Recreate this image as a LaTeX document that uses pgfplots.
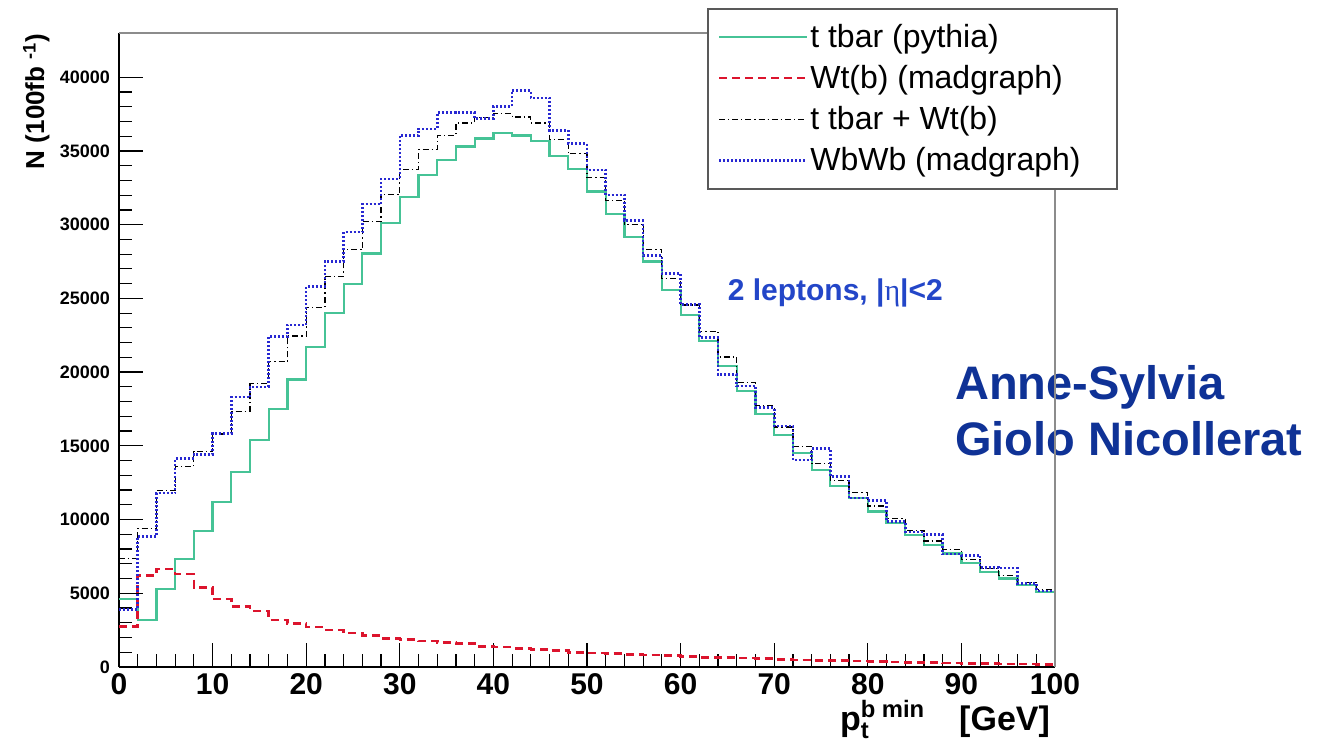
\documentclass[border=0pt]{standalone}
\usepackage{fontspec}
\setmainfont{Liberation Sans}
\usepackage{amsmath}
\usepackage{pgfplots}
\usepackage{pgfplotstable}
\pgfplotsset{compat=1.18}
\definecolor{ttgreen}{RGB}{70,195,150}
\definecolor{wtred}{RGB}{220,20,45}
\definecolor{wbblue}{RGB}{40,40,210}
\definecolor{lepblue}{RGB}{35,70,200}
\definecolor{nameblue}{RGB}{15,50,150}

\pgfplotstableread{
x tt wt sum wbwb
0 4600 2750 7350 3900
2 3200 6200 9400 8850
4 5300 6650 11950 11800
6 7300 6300 13600 14150
8 9200 5400 14600 14400
10 11200 4600 15800 15850
12 13250 4100 17350 18300
14 15400 3800 19200 19000
16 17500 3200 20700 22400
18 19500 2950 22450 23200
20 21700 2700 24400 25800
22 24000 2500 26500 27500
24 26000 2300 28300 29500
26 28050 2150 30200 31400
28 30100 1950 32050 33100
30 31900 1850 33750 36050
32 33350 1750 35100 36500
34 34400 1650 36050 37600
36 35300 1600 36900 37600
38 35850 1400 37250 37200
40 36200 1350 37550 38000
42 36050 1250 37300 39100
44 35700 1200 36900 38600
46 34650 1100 35750 36400
48 33800 1000 34800 35500
50 32250 950 33200 33700
52 30750 900 31650 32000
54 29150 850 30000 30300
56 27500 820 28320 27900
58 25550 780 26330 26700
60 23850 700 24550 24600
62 22100 660 22760 22350
64 20400 630 21030 19850
66 18700 600 19300 19050
68 17150 560 17710 17600
70 15750 520 16270 16350
72 14500 480 14980 14050
74 13350 450 13800 14800
76 12250 420 12670 12900
78 11450 400 11850 11450
80 10550 370 10920 11300
82 9750 340 10090 9850
84 8950 320 9270 9150
86 8250 300 8550 9000
88 7700 280 7980 7650
90 7050 250 7300 7550
92 6450 230 6680 6750
94 6000 210 6210 6700
96 5550 190 5740 5650
98 5100 170 5270 5150
100 5100 170 5270 5150
}\data

\begin{document}
\begin{tikzpicture}
\begin{axis}[
  scale only axis, width=468pt, height=317pt,
  xmin=0, xmax=100, ymin=0, ymax=43000,
  axis x line*=bottom, axis y line*=left,
  axis line style={black, line width=0.8pt},
  tick align=inside,
  xtick={0,10,...,100}, minor x tick num=4,
  ytick={0,5000,...,40000}, minor y tick num=4,
  major tick length=12pt, minor tick length=6.5pt,
  tick style={black, line width=0.6pt},
  scaled y ticks=false,
  /pgf/number format/assume math mode=true,
  /pgf/number format/1000 sep={},
  yticklabel style={font=\fontsize{9}{10}\selectfont\bfseries, xshift=-1pt},
  xticklabel style={font=\fontsize{15}{16}\selectfont\bfseries},
  xlabel={p$_{\text{t}}^{\text{b min}}$\quad[GeV]},
  xlabel style={at={(axis description cs:0.995,-0.052)}, anchor=north east, inner sep=0pt, font=\fontsize{17}{18}\selectfont\bfseries},
  ylabel={N (100fb $^{\text{-1}}$)},
  ylabel style={at={(axis description cs:-0.0737,1)}, anchor=south east, inner sep=0pt, font=\fontsize{13}{14}\selectfont\bfseries},
  clip=false,
  legend style={at={(axis description cs:0.628,1.0394)}, anchor=north west, draw=black!65, line width=0.9pt, fill=white,
    font=\fontsize{16}{19}\selectfont, row sep=5.5pt, inner xsep=5pt, inner ysep=6.5pt, nodes={inner sep=1pt}},
  legend cell align=left,
  legend image code/.code={\draw[#1] (0pt,0pt) -- (40pt,0pt); \path (0pt,0pt) -- (44pt,0pt);},
  legend entries={t tbar (pythia), Wt(b) (madgraph), t tbar + Wt(b), WbWb (madgraph)\hspace*{12pt}},
]
\addplot[const plot, color=ttgreen, line width=1.1pt] table[x=x,y=tt]{\data};
\addplot[const plot, color=wtred, line width=1.3pt, dash pattern=on 4pt off 2.5pt] table[x=x,y=wt]{\data};
\addplot[const plot, black, line width=0.6pt, dash pattern=on 3pt off 1.5pt on 0.6pt off 1.5pt] table[x=x,y=sum]{\data};
\addplot[const plot, color=wbblue, line width=1.3pt, dash pattern=on 1pt off 1pt] table[x=x,y=wbwb]{\data};
\node[anchor=base west, text=lepblue, font=\fontsize{15}{18}\selectfont\bfseries, inner sep=0pt] at (axis cs:65,24880) {2 leptons, |{\fontspec{Liberation Serif}\mdseries η}|<2};
\node[anchor=base west, text=nameblue, font=\fontsize{23.5}{28}\selectfont\bfseries, align=left, inner sep=0pt] at (axis cs:89.3,14370) {Anne-Sylvia\\Giolo Nicollerat};
\draw[black!45, line width=0.8pt] (rel axis cs:0,1) -- (rel axis cs:1,1) -- (rel axis cs:1,0);
\end{axis}
\path ([shift={(-59.5pt,-39pt)}]current axis.south west) rectangle ([shift={(137pt,16.5pt)}]current axis.north east);
\end{tikzpicture}
\end{document}
